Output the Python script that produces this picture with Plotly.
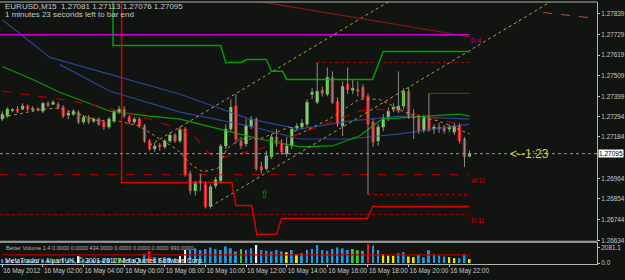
import plotly.graph_objects as go

BG = "#111410"
FG = "#c8c8c8"

# ---------------- data ----------------
bars = list(range(93))
opens = [1.27279,1.27295,1.27324,1.27332,1.27332,1.27348,1.27329,1.27334,1.27321,1.27363,
         1.27358,1.27358,1.27342,1.27300,1.27305,1.27316,1.27263,1.27289,1.27268,1.27279,
         1.27263,1.27237,1.27268,1.27316,1.27332,1.27289,1.27263,1.27279,1.27242,1.27163,
         1.27120,1.27141,1.27131,1.27163,1.27194,1.27163,1.27226,1.26988,1.26898,1.26951,
         1.26930,1.26814,1.26925,1.26951,1.27136,1.27226,1.27348,1.27163,1.27147,1.27242,
         1.27279,1.27025,1.27015,1.27078,1.27184,1.27147,1.27094,1.27136,1.27231,1.27237,
         1.27252,1.27411,1.27369,1.27432,1.27411,1.27501,1.27374,1.27242,1.27464,1.27432,
         1.27437,1.27448,1.27400,1.27263,1.27163,1.27237,1.27289,1.27332,1.27326,1.27348,
         1.27427,1.27295,1.27284,1.27221,1.27289,1.27226,1.27237,1.27237,1.27226,1.27210,
         1.27242,1.27173,1.27081]
highs = [1.27321,1.27342,1.27337,1.27348,1.27363,1.27358,1.27348,1.27342,1.27369,1.27374,
         1.27379,1.27369,1.27353,1.27321,1.27332,1.27326,1.27300,1.27300,1.27289,1.27289,
         1.27274,1.27289,1.27326,1.27348,1.27348,1.27300,1.27289,1.27289,1.27252,1.27173,
         1.27152,1.27152,1.27173,1.27210,1.27205,1.27242,1.27237,1.27004,1.26951,1.26988,
         1.26946,1.26930,1.26972,1.27147,1.27252,1.27385,1.27411,1.27184,1.27279,1.27295,
         1.27289,1.27052,1.27110,1.27200,1.27226,1.27173,1.27184,1.27237,1.27258,1.27279,
         1.27385,1.27443,1.27580,1.27453,1.27554,1.27533,1.27395,1.27480,1.27554,1.27490,
         1.27480,1.27464,1.27416,1.27279,1.27252,1.27305,1.27342,1.27363,1.27533,1.27443,
         1.27448,1.27332,1.27300,1.27300,1.27416,1.27252,1.27258,1.27247,1.27252,1.27258,
         1.27258,1.27184,1.27113]
lows = [1.27268,1.27284,1.27316,1.27311,1.27326,1.27321,1.27316,1.27321,1.27311,1.27342,
        1.27353,1.27332,1.27284,1.27279,1.27295,1.27252,1.27252,1.27252,1.27258,1.27242,
        1.27221,1.27226,1.27258,1.27305,1.27284,1.27252,1.27252,1.27231,1.27152,1.27110,
        1.27104,1.27110,1.27120,1.27152,1.27152,1.27152,1.26972,1.26877,1.26872,1.26898,
        1.26803,1.26803,1.26909,1.26941,1.27120,1.27215,1.27147,1.27120,1.27131,1.27226,
        1.27004,1.26988,1.27004,1.27067,1.27131,1.27089,1.27078,1.27120,1.27215,1.27226,
        1.27237,1.27385,1.27358,1.27400,1.27400,1.27358,1.27237,1.27189,1.27411,1.27411,
        1.27400,1.27385,1.26877,1.27131,1.27136,1.27215,1.27268,1.27316,1.27311,1.27332,
        1.27279,1.27173,1.27200,1.27205,1.27210,1.27200,1.27205,1.27200,1.27210,1.27194,
        1.27152,1.27025,1.27076]
closes = [1.27305,1.27332,1.27329,1.27321,1.27348,1.27332,1.27334,1.27329,1.27363,1.27353,
          1.27369,1.27342,1.27295,1.27311,1.27321,1.27263,1.27289,1.27263,1.27279,1.27252,
          1.27237,1.27279,1.27316,1.27332,1.27295,1.27263,1.27279,1.27242,1.27163,1.27120,
          1.27136,1.27131,1.27163,1.27194,1.27163,1.27226,1.26988,1.26898,1.26935,1.26941,
          1.26814,1.26919,1.26956,1.27136,1.27226,1.27342,1.27173,1.27136,1.27242,1.27279,
          1.27015,1.27009,1.27083,1.27184,1.27147,1.27104,1.27136,1.27226,1.27242,1.27258,
          1.27369,1.27422,1.27427,1.27416,1.27501,1.27369,1.27252,1.27453,1.27437,1.27443,
          1.27427,1.27395,1.27252,1.27157,1.27237,1.27279,1.27321,1.27342,1.27348,1.27427,
          1.27295,1.27284,1.27215,1.27284,1.27226,1.27237,1.27226,1.27215,1.27237,1.27242,
          1.27163,1.27078,1.27095]

volumes = [520,450,380,300,420,350,300,280,560,400,350,330,700,480,400,917,520,450,380,420,
           560,600,640,655,720,600,480,650,1250,1572,800,650,780,720,650,917,1742,
           1742,1965,1742,1877,2052,1877,1742,2183,1965,1528,1877,1742,1965,2402,1742,1616,
           1528,1742,1528,1441,1742,1179,
           1300,1742,1877,2402,1742,1616,1877,2052,1965,1742,1877,1703,1616,2489,2314,1742,
           1179,1004,960,1310,1441,873,786,1092,742,1703,1092,1004,873,786,655,655,1179,524]
vol_kind = (["N"] * 15 + ["W"] + ["N"] * 7 + ["G"] + ["N"] * 5 + ["C"] + ["N"] * 5 + ["W", "W"]
            + ["N"] * 10 + ["G"] + ["N"] * 2 + ["W"] + ["N"] * 5 + ["L", "N", "L"]
            + ["N"] * 10 + ["G", "G", "N", "C", "N", "N", "L", "L", "L", "N", "N", "L", "L"]
            + ["N"] * 6 + ["L", "L", "N", "N", "L"])
vol_avg_x = [0, 92]
vol_avg = [1090, 1090]

# moving averages (bar index, price)
ma_green_x = [0, 6, 11.3, 21.2, 29, 35, 42.8, 50.7, 58.5, 65, 70.3, 74.8, 83.5, 90, 92]
ma_green = [1.27559, 1.27490, 1.27422, 1.27321, 1.27295, 1.27279, 1.27226, 1.27173, 1.27131,
            1.27136, 1.27189, 1.27279, 1.27295, 1.27305, 1.27295]
ma_red_x = [0, 11.3, 19.2, 29, 35, 37.9, 40.8, 43.8, 50.7, 58.5, 62.5, 70.3, 73.7, 78.2, 83.5, 86, 91.3]
ma_red = [1.27427, 1.27385, 1.27348, 1.27279, 1.27226, 1.27184, 1.27094, 1.27078, 1.27120,
          1.27200, 1.27242, 1.27321, 1.27332, 1.27321, 1.27295, 1.27279, 1.27242]
ma_blue1_x = [0, 9.4, 21.2, 35, 48.7, 58.5, 68.3, 78.2, 92]
ma_blue1 = [1.27808, 1.27607, 1.27517, 1.27411, 1.27279, 1.27226, 1.27268, 1.27295, 1.27279]
ma_blue2_x = [11.3, 21.2, 35, 48.7, 58.5, 68.3, 78.2, 92]
ma_blue2 = [1.27570, 1.27427, 1.27316, 1.27242, 1.27173, 1.27173, 1.27200, 1.27252]
ma_fast_x = [0, 8, 11.3, 19.2, 21.2, 27, 31, 34.3, 37.5, 39.5, 42.4, 44.2, 46.7, 50.7, 56.6,
             58.5, 64.4, 70.3, 74.2, 80.2, 86, 92]
ma_fast = [1.27289, 1.27332, 1.27337, 1.27268, 1.27279, 1.27242, 1.27173, 1.27120, 1.27030,
           1.26999, 1.27015, 1.27120, 1.27173, 1.27173, 1.27237, 1.27200, 1.27279, 1.27385,
           1.27385, 1.27305, 1.27268, 1.27200]

# channel (upper / lower step lines)
hi_step_x = [21.8, 21.8, 43.0, 44.0, 47.1, 48.1, 52.0, 53.0, 55.2, 56.0, 72.9, 75.0, 92]
hi_step = [1.2800, 1.27670, 1.27670, 1.27580, 1.27580, 1.27596, 1.27596, 1.27533, 1.27533,
           1.27490, 1.27490, 1.27638, 1.27638]
lo_step_x = [23.5, 23.5, 45.2, 46.0, 49.1, 50.1, 54.0, 55.0, 71.9, 72.9, 92]
lo_step = [1.2800, 1.26941, 1.26941, 1.26819, 1.26819, 1.26666, 1.26666, 1.26750, 1.26750,
           1.26814, 1.26814]

# trend channel and sloped lines
trend_lo_x = [41, 109]
trend_lo = [1.26814, 1.27920]
trend_hi_x = [29, 77.2]
trend_hi = [1.27139, 1.27922]
top_line_x = [48.7, 92]
top_line = [1.27913, 1.27717]
top_dash_x = [106.5, 115.8]
top_dash = [1.27846, 1.27818]

# horizontal levels
lvl_magenta = 1.27728
lvl_week = 1.26983
lvl_day = 1.26771
sess_hi = 1.27580      # from bar 62
sess_lo = 1.26877      # from bar 72
sess_mid = 1.27416     # from bar 84

price_ticks = [1.27839, 1.27729, 1.27619, 1.27509, 1.27399, 1.27294, 1.27184,
               1.26964, 1.26854, 1.26744, 1.26634]
time_ticks = [0, 8, 16, 24, 32, 40, 48, 56, 64, 72, 80, 88]
time_text = ["16 May 2012", "16 May 02:00", "16 May 04:00", "16 May 06:00", "16 May 08:00",
             "16 May 10:00", "16 May 12:00", "16 May 14:00", "16 May 16:00", "16 May 18:00",
             "16 May 20:00", "16 May 22:00"]

# ---------------- figure ----------------
fig = go.Figure()

def line(xs, ys, color, width=1, dash="solid", yaxis="y"):
    fig.add_trace(go.Scatter(x=xs, y=ys, mode="lines", yaxis=yaxis,
                             line=dict(color=color, width=width, dash=dash),
                             hoverinfo="skip", showlegend=False))

line(ma_blue1_x, ma_blue1, "#27468f", 1.2)
line(ma_blue2_x, ma_blue2, "#27468f", 1.2)
line(ma_green_x, ma_green, "#00a000", 1.2)
line(ma_red_x, ma_red, "#b00000", 1.2, "dash")
line(ma_fast_x, ma_fast, "#c08a30", 1, "dot")

line(trend_lo_x, trend_lo, "#a8a838", 1, "dot")
line(trend_hi_x, trend_hi, "#a8a838", 1, "dot")
line(top_line_x, top_line, "#8a1a10", 1.2)
line(top_dash_x, top_dash, "#b05050", 1, "dash")

line([-0.5, 92], [lvl_magenta, lvl_magenta], "#d000d0", 1.6)
line([-0.5, 92], [lvl_week, lvl_week], "#c00000", 1, "dash")
line([-0.5, 92], [lvl_day, lvl_day], "#b00000", 1, "dot")
line([62, 92], [sess_hi, sess_hi], "#b00000", 1, "dot")
line([72, 92], [sess_lo, sess_lo], "#a00000", 1.2, "dot")
line([84, 92], [sess_mid, sess_mid], "#6a2a10", 1.2)

line(hi_step_x, hi_step, "#00a000", 1.5)
line(lo_step_x, lo_step, "#dd0000", 1.5)

# wicks
wx, wy = [], []
for i, h, l in zip(bars, highs, lows):
    wx += [i, i, None]
    wy += [h, l, None]
fig.add_trace(go.Scatter(x=wx, y=wy, mode="lines", line=dict(color="#8c8c8c", width=1),
                         hoverinfo="skip", showlegend=False))

# bodies
minh = 0.00005
bull = [i for i in bars if closes[i] >= opens[i]]
bear = [i for i in bars if closes[i] < opens[i]]
fig.add_trace(go.Bar(x=bull, base=[min(opens[i], closes[i]) for i in bull],
                     y=[max(abs(closes[i] - opens[i]), minh) for i in bull], width=0.5,
                     marker=dict(color="#b6ff8a", line=dict(color="#46c83c", width=0.6)),
                     hoverinfo="skip", showlegend=False))
fig.add_trace(go.Bar(x=bear, base=[min(opens[i], closes[i]) for i in bear],
                     y=[max(abs(closes[i] - opens[i]), minh) for i in bear], width=0.5,
                     marker=dict(color="#ff2020", line=dict(color="#ff2020", width=0.6)),
                     hoverinfo="skip", showlegend=False))

# volume
kind_color = {"N": "#1e9be0", "L": "#e8e800", "C": "#ff1010", "W": "#f0f0f0", "G": "#30d030"}
fig.add_trace(go.Bar(x=bars, y=volumes, yaxis="y2", width=0.38,
                     marker=dict(color=[kind_color[k] for k in vol_kind], line=dict(width=0)),
                     hoverinfo="skip", showlegend=False))
line(vol_avg_x, vol_avg, "#b00000", 1.4, yaxis="y2")

# current price line
fig.add_shape(type="line", xref="x domain", x0=0, x1=1, yref="y", y0=closes[-1], y1=closes[-1],
              line=dict(color="#9a9a9a", width=1, dash="dot"))

pw = 598 / 625
for yy in [2, 243, 244]:
    fig.add_shape(type="line", xref="paper", x0=0, x1=pw, yref="paper",
                  y0=1 - yy / 280, y1=1 - yy / 280, line=dict(color="#b4b4b4", width=1))

ann = []
small = dict(family="Liberation Sans, Arial", size=8, color=FG)
ann.append(dict(x=3 / 625, y=1 - 7 / 280, xref="paper", yref="paper", xanchor="left",
                yanchor="middle", showarrow=False, font=small,
                text="EURUSD,M15  1.27081 1.27113 1.27076 1.27095"))
ann.append(dict(x=3 / 625, y=1 - 15 / 280, xref="paper", yref="paper", xanchor="left",
                yanchor="middle", showarrow=False, font=small,
                text="1 minutes 23 seconds left to bar end"))
ann.append(dict(x=4 / 625, y=1 - 250 / 280, xref="paper", yref="paper", xanchor="left",
                yanchor="middle", showarrow=False,
                font=dict(family="Liberation Sans, Arial", size=5.6, color="#b8b8b8"),
                text="Better Volume 1.4 0.0000 0.0000 434.0000 0.0000 0.0000 0.0000 990.0000"))
ann.append(dict(x=3 / 625, y=1 - 263 / 280, xref="paper", yref="paper", xanchor="left",
                yanchor="middle", showarrow=False,
                font=dict(family="Liberation Sans, Arial", size=6.8, color="#e8e8e8"),
                text="MetaTrader - Alpari UK, © 2001-2012 MetaQuotes Software Corp."))
ann.append(dict(x=99.5, y=closes[-1], xref="x", yref="y", xanchor="left", yanchor="middle",
                showarrow=False, font=dict(family="Liberation Sans, Arial", size=12, color="#cccc40"),
                text="<--1:23"))
lab = dict(family="Liberation Sans, Arial", size=6.5)
ann.append(dict(x=91.8, y=lvl_magenta, xref="x", yref="y", xanchor="left", yanchor="top",
                showarrow=False, font=dict(lab, color="#c000c0"), text="D:4"))
ann.append(dict(x=91.8, y=lvl_week, xref="x", yref="y", xanchor="left", yanchor="top",
                showarrow=False, font=dict(lab, color="#d00000"), text="W:11"))
ann.append(dict(x=91.8, y=lvl_day, xref="x", yref="y", xanchor="left", yanchor="top",
                showarrow=False, font=dict(lab, color="#d00000"), text="D:31"))
ann.append(dict(x=51.6, y=sess_lo, xref="x", yref="y", xanchor="center", yanchor="middle",
                showarrow=False, font=dict(family="DejaVu Sans", size=11, color="#00a000"),
                text="⇧"))
ann.append(dict(x=599 / 625, y=closes[-1], xref="paper", yref="y", xanchor="left",
                yanchor="middle", showarrow=False, bgcolor="#ffffff", borderpad=0,
                font=dict(family="Liberation Sans, Arial", size=6.5, color="#000000"),
                text=f"{closes[-1]:.5f}"))

fig.update_layout(
    width=625, height=280, margin=dict(l=0, r=0, t=0, b=0),
    paper_bgcolor=BG, plot_bgcolor=BG, barmode="overlay", showlegend=False,
    annotations=ann,
    xaxis=dict(domain=[0, pw], range=[-0.45, 117.1], anchor="y2", showgrid=False,
               zeroline=False, showline=True, linecolor="#b4b4b4", linewidth=1,
               tickvals=time_ticks, ticktext=time_text, ticks="outside", ticklen=2,
               tickcolor=FG, ticklabelposition="outside right", tickangle=0,
               tickfont=dict(family="Liberation Sans, Arial", size=6.4, color=FG)),
    yaxis=dict(domain=[37 / 280, 278 / 280], range=[1.26629, 1.27902], side="right",
               anchor="x", showgrid=False, zeroline=False, showline=True,
               linecolor="#b4b4b4", linewidth=1, tickvals=price_ticks,
               ticktext=[f"{v:.5f}" for v in price_ticks], ticks="outside", ticklen=2,
               tickcolor=FG, tickfont=dict(family="Liberation Sans, Arial", size=6.4, color=FG)),
    yaxis2=dict(domain=[14 / 280, 36 / 280], range=[-131, 2751], side="right", anchor="x",
                showgrid=False, zeroline=False, showline=True, linecolor="#b4b4b4",
                linewidth=1, tickvals=[0, 2081.1], ticktext=["0.0", "2081.1"],
                ticks="outside", ticklen=2, tickcolor=FG,
                tickfont=dict(family="Liberation Sans, Arial", size=6.4, color=FG)),
)

fig.write_html("out.html")
